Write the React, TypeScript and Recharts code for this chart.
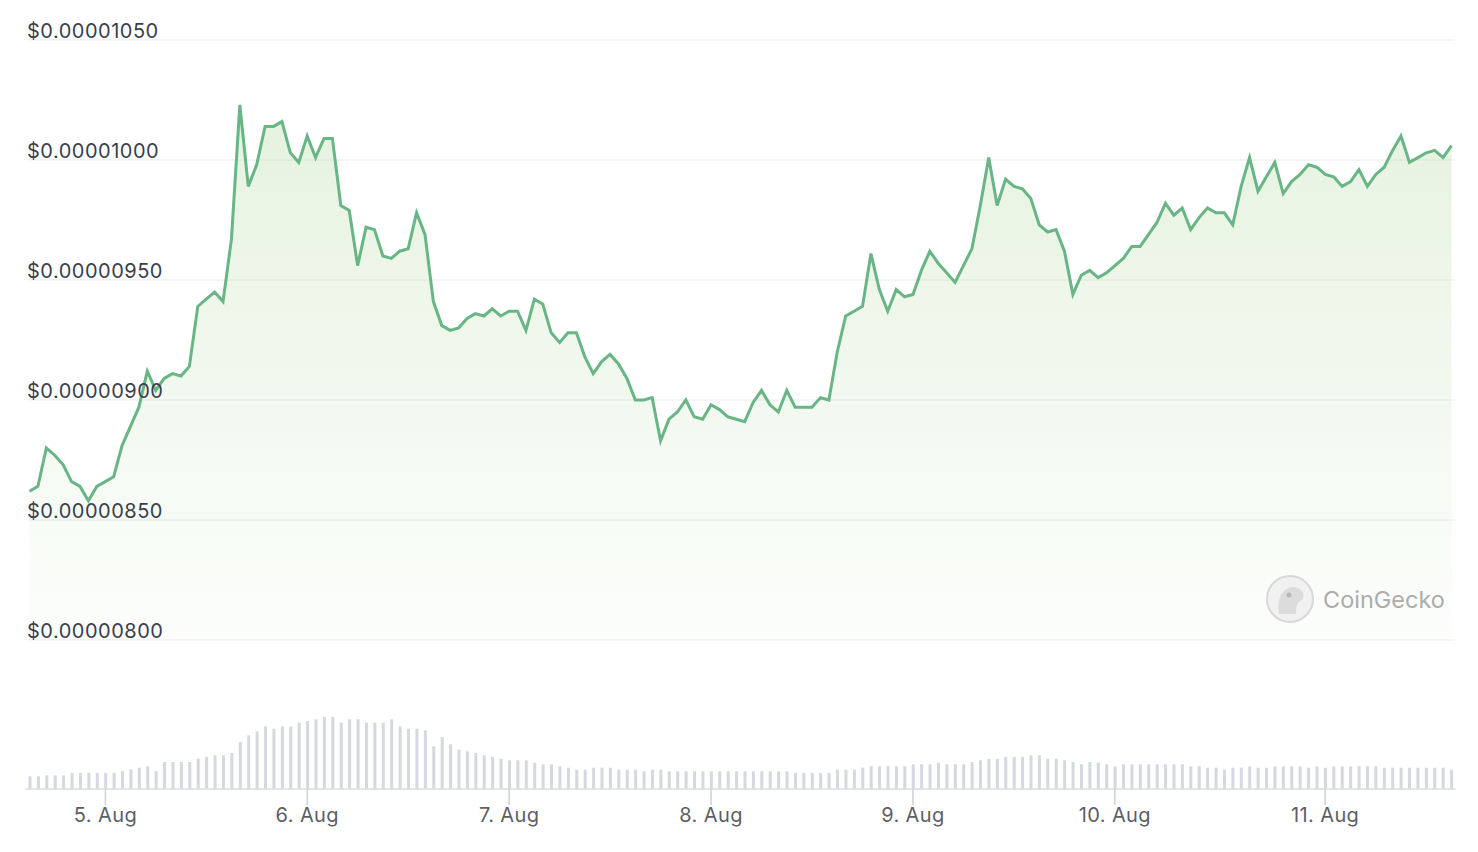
import { AreaChart, Area, BarChart, Bar, XAxis, YAxis, CartesianGrid } from "recharts";

// hourly price, in units of 0.00000001 USD (4 Aug afternoon -> 11 Aug)
const priceE8 = [
  862, 864, 880, 877, 873, 866, 864, 858, 864, 866,
  868, 881, 889, 897, 912, 904, 909, 911, 910, 914,
  939, 942, 945, 941, 967, 1023, 989, 998, 1014, 1014,
  1016, 1003, 999, 1010, 1001, 1009, 1009, 981, 979, 956,
  972, 971, 960, 959, 962, 963, 978, 969, 941, 931,
  929, 930, 934, 936, 935, 938, 935, 937, 937, 929,
  942, 940, 928, 924, 928, 928, 918, 911, 916, 919,
  915, 909, 900, 900, 901, 883, 892, 895, 900, 893,
  892, 898, 896, 893, 892, 891, 899, 904, 898, 895,
  904, 897, 897, 897, 901, 900, 920, 935, 937, 939,
  961, 946, 937, 946, 943, 944, 954, 962, 957, 953,
  949, 956, 963, 981, 1001, 981, 992, 989, 988, 984,
  973, 970, 971, 962, 944, 952, 954, 951, 953, 956,
  959, 964, 964, 969, 974, 982, 977, 980, 971, 976,
  980, 978, 978, 973, 989, 1001, 987, 993, 999, 986,
  991, 994, 998, 997, 994, 993, 989, 991, 996, 989,
  994, 997, 1004, 1010, 999, 1001, 1003, 1004, 1001, 1006,
];

// traded volume, relative units
const volume = [
  12.7, 12.7, 13.7, 13.7, 13.7, 16, 16, 16, 16, 16,
  16, 18, 19.7, 21.3, 22.7, 18, 27, 27, 27, 27,
  30.3, 32, 33.7, 33.7, 36, 47, 53.7, 57.7, 62.7, 60.3,
  62.7, 62.7, 66.3, 68, 69.7, 72, 72, 66.3, 69.7, 69.7,
  66.3, 66.3, 66.3, 69.7, 62.7, 60.3, 60.3, 58.7, 42.7, 52,
  44.7, 39.3, 37.7, 36, 33.7, 32, 30.3, 28.7, 28.7, 28.7,
  26.3, 24.7, 24.7, 22.7, 21.3, 19.3, 19.3, 21.3, 21.3, 21.3,
  19.3, 19.3, 19.3, 17.7, 19.3, 19.3, 17.7, 17.7, 17.7, 17.7,
  17.7, 17.7, 17.7, 17.7, 17.7, 17.7, 17.7, 17.7, 17.7, 17.7,
  17.7, 16, 16, 16, 16, 16, 19.3, 19.3, 19.3, 21.3,
  22.7, 22.7, 22.7, 22.7, 22.7, 24.7, 24.7, 24.7, 26.3, 24.7,
  24.7, 24.7, 27, 28.7, 30.3, 30.3, 32, 32, 32, 33.7,
  33.7, 30.3, 30.3, 28.7, 27, 24.7, 27, 26.3, 24.7, 22.7,
  24.7, 24.7, 24.7, 24.7, 24.7, 24.7, 24.7, 24.7, 22.7, 22.7,
  21.3, 21.3, 19.3, 21.3, 21.3, 22.7, 21.3, 21.3, 22.7, 22.7,
  22.7, 22.7, 21.3, 22.7, 21.3, 22.7, 22.7, 22.7, 22.7, 22.7,
  22.7, 21.3, 21.3, 21.3, 21.3, 21.3, 21.3, 21.3, 21.3, 19.3,
];

const dateTickIndex = [9, 33, 57, 81, 105, 129, 154];
const dateTickLabels = ["5. Aug", "6. Aug", "7. Aug", "8. Aug", "9. Aug", "10. Aug", "11. Aug"];
const priceTicks = [800, 850, 900, 950, 1000, 1050];

const data = priceE8.map((p, i) => ({ i, price: p, vol: volume[i] }));

const W = 1470;
const FONT = "Inter, 'Noto Sans', sans-serif";

const fmtPrice = (v: number) => "$" + (v / 1e8).toFixed(8);

const PriceTick = (props: any) => {
  const { y, payload } = props;
  return (
    <text x={19} y={y - 2} fill="#3a3f4b" fontSize={20} fontFamily={FONT} letterSpacing={0.5} textAnchor="start">
      {fmtPrice(payload.value)}
    </text>
  );
};

const DateTick = (props: any) => {
  const { x, y, payload } = props;
  const k = dateTickIndex.indexOf(payload.value);
  if (k < 0) return null;
  return (
    <g>
      <line x1={x} x2={x} y1={y - 8} y2={y + 8} stroke="#cfd1d6" strokeWidth={1.5} />
      <text x={x} y={y + 25} fill="#5c5f66" fontSize={20} fontFamily={FONT} letterSpacing={0.4} textAnchor="middle">
        {dateTickLabels[k]}
      </text>
    </g>
  );
};

function Watermark() {
  return (
    <div style={{ position: "absolute", left: 1257, top: 566, display: "flex", alignItems: "center", gap: 8 }}>
      <svg width={50} height={50}>
        <circle cx={25} cy={25} r={23} fill="#f1f1f1" stroke="#d8d8d8" strokeWidth={2} />
        <path d="M14 40 C12 26 16 14 28 13 C36 13 40 19 38 25 C34 27 31 29 31 40 Z" fill="#dcdcdc" />
        <circle cx={24} cy={21} r={2.5} fill="#b8b8b8" />
      </svg>
      <span style={{ fontFamily: FONT, fontSize: 23.5, color: "#acacac" }}>CoinGecko</span>
    </div>
  );
}

export default function App() {
  return (
    <div style={{ position: "relative", width: W, height: 840, background: "#fff" }}>
      <div style={{ position: "absolute", left: 0, top: 0 }}>
        <AreaChart width={W} height={636} data={data} margin={{ top: 32, right: 23, bottom: 4, left: 21.5 }}>
          <defs>
            <linearGradient id="priceFill" x1="0" y1="0" x2="0" y2="1">
              <stop offset="0%" stopColor="#c3e2b5" stopOpacity={0.7} />
              <stop offset="100%" stopColor="#c3e2b5" stopOpacity={0.07} />
            </linearGradient>
          </defs>
          <CartesianGrid horizontal vertical={false} stroke="#f0f0f2" strokeWidth={1.5} />
          <XAxis dataKey="i" hide padding={{ left: 0, right: 3.5 }} />
          <YAxis
            domain={[800, 1050]}
            ticks={priceTicks}
            interval={0}
            mirror
            width={1}
            axisLine={false}
            tickLine={false}
            tick={<PriceTick />}
          />
          <Area
            type="linear"
            dataKey="price"
            stroke="#68b585"
            strokeWidth={3}
            fill="url(#priceFill)"
            dot={false}
            activeDot={false}
            isAnimationActive={false}
          />
        </AreaChart>
      </div>
      <div style={{ position: "absolute", left: 0, top: 682 }}>
        <BarChart width={W} height={146} data={data} margin={{ top: 10, right: 22.5, bottom: 0, left: 17.5 }}>
          <XAxis
            dataKey="i"
            interval={0}
            height={47}
            axisLine={{ stroke: "#d9dbe0", strokeWidth: 1.5 }}
            tickLine={false}
            tick={<DateTick />}
          />
          <YAxis hide domain={[0, 89]} />
          <Bar dataKey="vol" fill="#d6d8df" barSize={3} isAnimationActive={false} />
        </BarChart>
      </div>
      <Watermark />
    </div>
  );
}
